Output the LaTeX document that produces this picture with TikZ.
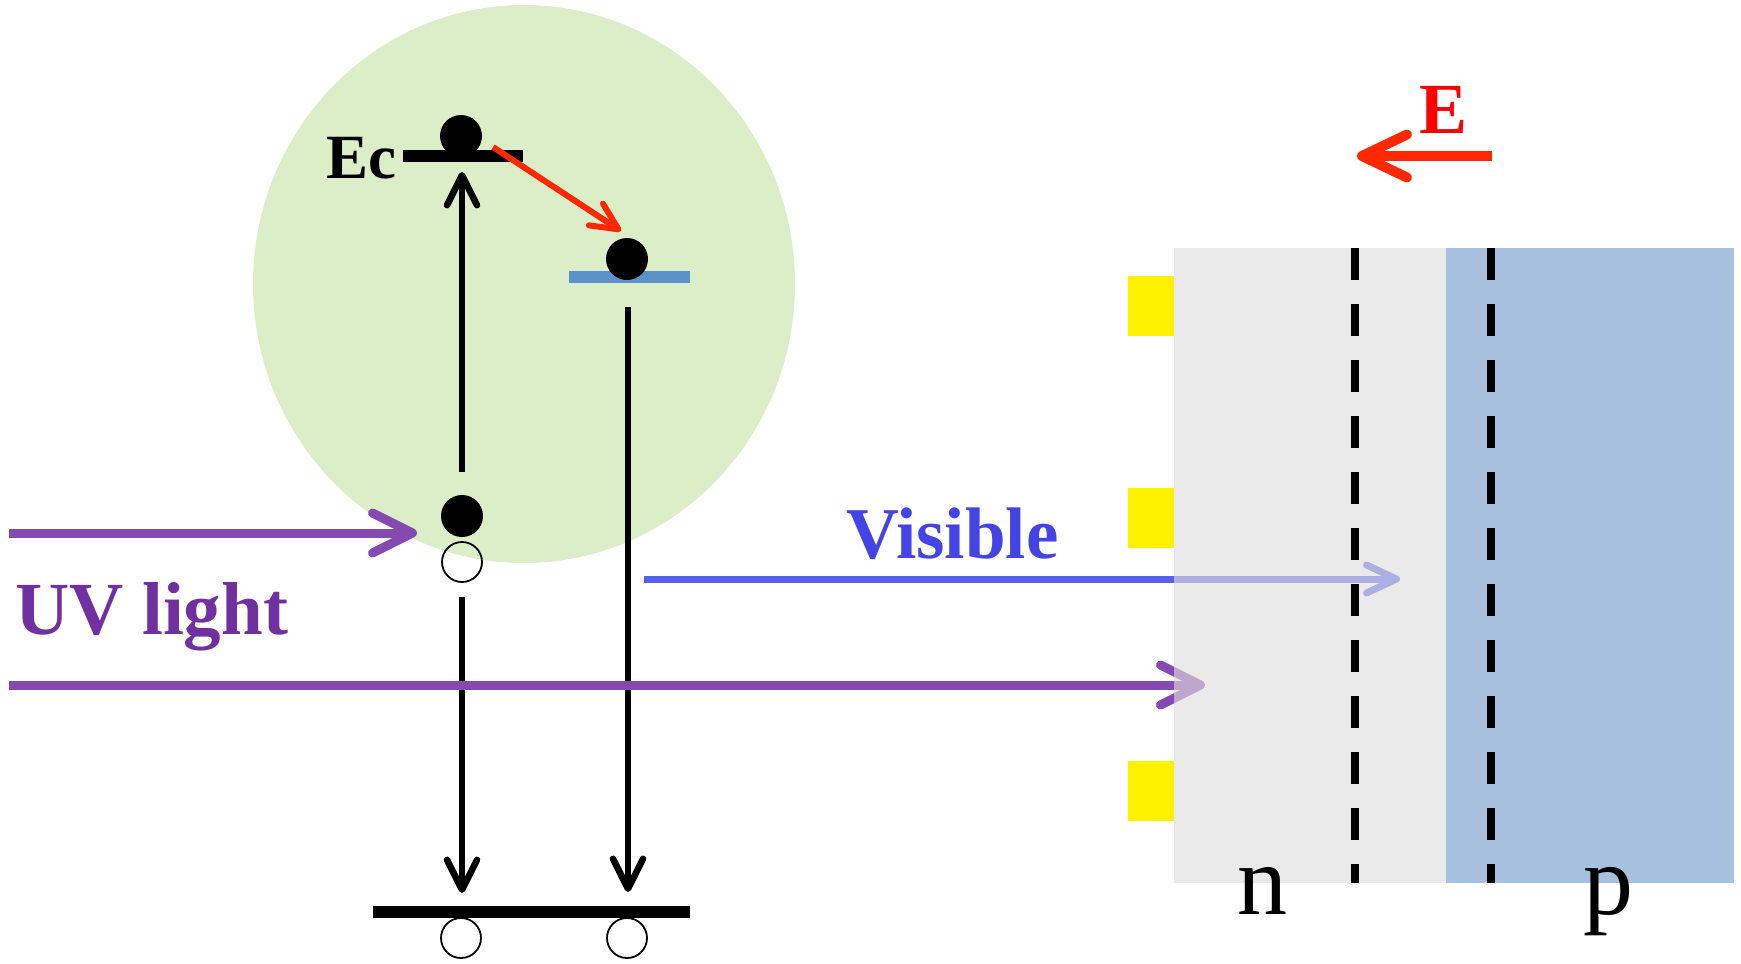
\documentclass[tikz,border=0pt]{standalone}
\usepackage{fontspec}
\setmainfont{Liberation Serif}
\usetikzlibrary{arrows.meta}
\definecolor{circgreen}{RGB}{220,238,200}
\definecolor{ngray}{RGB}{222,222,222}
\definecolor{pblue}{RGB}{166,192,222}
\definecolor{levelblue}{RGB}{91,146,201}
\definecolor{uvtext}{RGB}{112,48,160}
\definecolor{uvline}{RGB}{133,74,177}
\definecolor{vistext}{RGB}{68,68,230}
\definecolor{visline}{RGB}{88,96,235}
\definecolor{eline}{RGB}{255,40,0}
\tikzset{
  elec/.style={circle,fill=black,minimum size=42pt,inner sep=0pt},
  hole/.style={circle,draw=black,line width=1.8pt,minimum size=40pt,inner sep=0pt},
  level/.style={line width=12pt},
  karrow/.style={line width=6.5pt,-{Straight Barb[length=30pt,width=30pt,round]}},
  uvarrow/.style={uvline,line width=9pt,-{Straight Barb[length=40pt,width=40pt,round]}},
  visarrow/.style={visline,line width=7pt,-{Straight Barb[length=30pt,width=28pt,round]}},
  redarrow/.style={eline,line width=#1,-{Straight Barb[length=4.5*#1,width=4.3*#1,round]}},
  lbl/.style={inner sep=0pt,font=\fontsize{#1}{#1}\selectfont\bfseries}
}
\begin{document}
\begin{tikzpicture}[x=1pt,y=-1pt]
\useasboundingbox (0,0) rectangle (1741,964);
% quantum dot
\fill[circgreen] (524,284) ellipse [x radius=271pt, y radius=279pt];
\draw[level] (403,156) -- (523,156);
\draw[level,levelblue] (569,277) -- (690,277);
\draw[level] (373,912) -- (690,912);
\node[lbl=63,anchor=base east] (ec) at (397,178) {Ec};
\node[elec] (e1) at (461,136) {};
\node[elec] (e2) at (627,259) {};
\node[elec] (e0) at (462,516) {};
\node[hole] (h0) at (462,562) {};
\node[hole] (h1) at (461,938) {};
\node[hole] (h2) at (627,938) {};
% transitions
\coordinate (upa) at (462,472);
\coordinate (upb) at (462,172);
\coordinate (rda) at (493,147);
\coordinate (rdb) at (621,231);
\coordinate (dla) at (462,597);
\coordinate (dlb) at (462,893);
\coordinate (dra) at (628,307);
\coordinate (drb) at (628,892);
\draw[karrow] (upa) -- (upb);
\draw[redarrow=6pt] (rda) -- (rdb);
\draw[karrow] (dla) -- (dlb);
\draw[karrow] (dra) -- (drb);
% light
\coordinate (uva) at (9,533);
\coordinate (uvb) at (417,533);
\coordinate (uvc) at (9,685);
\coordinate (uvd) at (1205,685);
\coordinate (visa) at (644,579);
\coordinate (visb) at (1400,579);
\draw[uvarrow] (uva) -- (uvb);
\draw[uvarrow] (uvc) -- (uvd);
\draw[visarrow] (visa) -- (visb);
\node[lbl=75,anchor=base west,text=uvtext] (uv) at (15,634) {UV light};
\node[lbl=73,anchor=base west,text=vistext] (vis) at (846,558) {Visible};
% p-n junction
\fill[ngray,opacity=0.63] (1174,248) rectangle (1446,883);
\fill[pblue] (1446,248) rectangle (1734,883);
\foreach \x in {1355,1491}
  \draw[line width=8pt,dash pattern=on 32pt off 24pt] (\x,248) -- (\x,883);
\foreach \y in {276,488,761}
  \fill[yellow] (1128,\y) rectangle ++(46,60);
\node[inner sep=0pt,anchor=base,font=\fontsize{100}{100}\selectfont] (n) at (1262,914) {n};
\node[inner sep=0pt,anchor=base,font=\fontsize{100}{100}\selectfont] (p) at (1608,914) {p};
% field
\coordinate (fa) at (1492,156);
\coordinate (fb) at (1357,156);
\draw[redarrow=10pt] (fa) -- (fb);
\node[lbl=72,anchor=base,text=red] (E) at (1443,133) {E};
\end{tikzpicture}
\end{document}
